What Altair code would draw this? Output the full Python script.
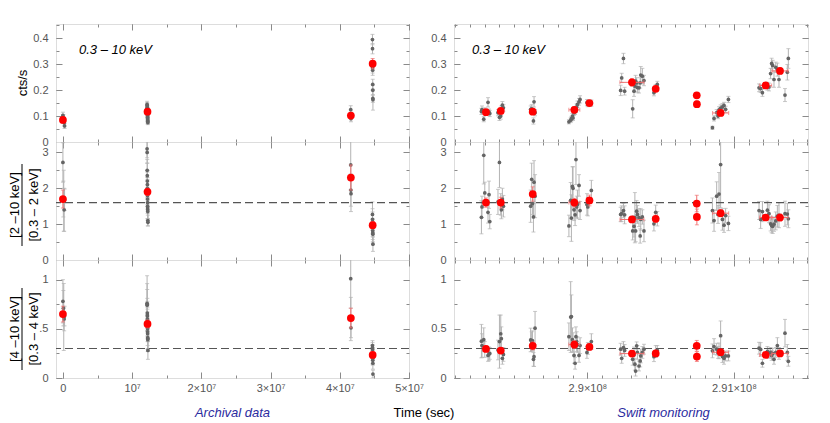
import altair as alt
import pandas as pd

# ---------------- Archival data (left column) ----------------
arch_t = [0, 60000, 120000, 180000, 240000,
          12160000, 12170000, 12180000, 12190000, 12200000, 12205000, 12210000, 12215000, 12220000,
          12225000, 12230000, 12235000, 12240000, 12250000, 12260000, 12270000, 12280000,
          41580000, 41600000, 41620000,
          44720000, 44730000, 44740000, 44750000, 44760000, 44770000, 44780000, 44790000]
arch_rate = [0.103, 0.094, 0.083, 0.074, 0.062,
             0.145, 0.140, 0.135, 0.130, 0.127, 0.122, 0.118, 0.115, 0.110, 0.105, 0.100, 0.095,
             0.090, 0.085, 0.080, 0.075, 0.120,
             0.125, 0.107, 0.090,
             0.395, 0.360, 0.286, 0.277, 0.222, 0.200, 0.168, 0.163]
arch_rate_err = [0.012, 0.012, 0.012, 0.012, 0.010,
                 0.012, 0.012, 0.012, 0.012, 0.012, 0.012, 0.012, 0.012, 0.012, 0.012, 0.012, 0.012,
                 0.012, 0.012, 0.010, 0.008, 0.012,
                 0.015, 0.013, 0.012,
                 0.020, 0.020, 0.020, 0.020, 0.020, 0.020, 0.015, 0.040]
arch_hr1 = [2.72, 1.70, 1.65, 1.40, 1.68,
            3.10, 3.00, 2.50, 2.35, 2.20, 2.10, 2.00, 1.90, 1.80, 1.70, 1.60, 1.50,
            1.45, 1.40, 1.35, 1.10, 1.05,
            2.65, 1.95, 1.85,
            1.27, 1.13, 1.04, 0.90, 0.82, 0.76, 0.72, 0.44]
arch_hr1_err = [0.55, 0.50, 0.85, 0.60, 0.30,
                0.25, 0.30, 0.30, 0.35, 0.30, 0.35, 0.30, 0.35, 0.30, 0.30, 0.30, 0.35,
                0.30, 0.30, 0.30, 0.15, 0.10,
                0.70, 0.45, 0.50,
                0.35, 0.30, 0.30, 0.25, 0.25, 0.25, 0.25, 0.20]
arch_hr2 = [0.78, 0.71, 0.62, 0.60, 0.63,
            0.76, 0.74, 0.75, 0.66, 0.63, 0.64, 0.60, 0.58, 0.55, 0.52, 0.50, 0.47,
            0.45, 0.41, 0.39, 0.40, 0.28,
            1.01, 0.60, 0.51,
            0.33, 0.31, 0.29, 0.25, 0.20, 0.18, 0.15, 0.04]
arch_hr2_err = [0.22, 0.18, 0.34, 0.12, 0.10,
                0.28, 0.22, 0.15, 0.15, 0.15, 0.12, 0.12, 0.12, 0.12, 0.10, 0.10, 0.10,
                0.12, 0.12, 0.12, 0.10, 0.09,
                0.30, 0.22, 0.10,
                0.05, 0.05, 0.05, 0.05, 0.06, 0.05, 0.06, 0.04]

arch_bin_t = [0, 12220000, 41600000, 44750000]
arch_bin_rate = [0.085, 0.117, 0.102, 0.302]
arch_bin_rate_err = [0.010, 0.008, 0.012, 0.020]
arch_bin_hr1 = [1.70, 1.90, 2.30, 0.97]
arch_bin_hr1_err = [0.25, 0.10, 0.35, 0.10]
arch_bin_hr2 = [0.65, 0.55, 0.61, 0.235]
arch_bin_hr2_err = [0.08, 0.04, 0.10, 0.03]

# ---------------- Swift monitoring (right column) ----------------
swift_t = [289277000, 289281000, 289293000, 289300000, 289322000, 289329000, 289334000,
           289390000, 289400000, 289409000, 289413000, 289420000, 289427000,
           289613000, 289620000, 289625000, 289632000, 289636000, 289643000,
           289874000, 289886000, 289891000, 289898000, 289902000, 289909000, 289916000, 289922000,
           289927000, 289932000, 289943000, 289950000,
           289997000, 290003000, 290027000,
           290227000, 290234000, 290246000, 290254000, 290309000, 290318000, 290324000, 290329000,
           290336000, 290341000, 290352000, 290360000, 290364000, 290375000, 290386000,
           290454000, 290466000, 290477000,
           290853000, 290864000, 290882000, 290891000, 290898000, 290909000, 290921000, 290932000,
           290943000, 290962000,
           291171000, 291182000, 291194000, 291228000, 291239000,
           291250000, 291257000, 291264000, 291273000, 291285000, 291296000, 291307000, 291348000,
           291364000, 291371000]
swift_rate = [0.118, 0.125, 0.088, 0.120, 0.153, 0.115, 0.110,
              0.113, 0.095, 0.100, 0.126, 0.142, 0.132,
              0.126, 0.128, 0.120, 0.081, 0.155, 0.113,
              0.078, 0.084, 0.090, 0.100, 0.093, 0.113, 0.117, 0.126, 0.135, 0.145, 0.155, 0.164,
              0.152, 0.147, 0.150,
              0.199, 0.247, 0.322, 0.196, 0.128, 0.196, 0.215, 0.235, 0.228, 0.210, 0.209, 0.228,
              0.258, 0.254, 0.237,
              0.190, 0.210, 0.222,
              0.055, 0.091, 0.113, 0.100, 0.124, 0.130, 0.135, 0.141, 0.126, 0.164,
              0.209, 0.206, 0.190, 0.215, 0.212,
              0.264, 0.303, 0.295, 0.241, 0.288, 0.279, 0.241, 0.181, 0.269, 0.322]
swift_rate_err = [0.012, 0.014, 0.010, 0.012, 0.018, 0.012, 0.012,
                  0.012, 0.012, 0.012, 0.013, 0.014, 0.013,
                  0.013, 0.016, 0.012, 0.012, 0.020, 0.012,
                  0.008, 0.009, 0.009, 0.010, 0.010, 0.011, 0.011, 0.012, 0.012, 0.013, 0.013, 0.014,
                  0.012, 0.011, 0.012,
                  0.020, 0.018, 0.020, 0.015, 0.035, 0.020, 0.020, 0.022, 0.020, 0.020, 0.020, 0.020,
                  0.033, 0.030, 0.020,
                  0.012, 0.012, 0.012,
                  0.006, 0.010, 0.012, 0.010, 0.012, 0.013, 0.013, 0.012, 0.012, 0.012,
                  0.015, 0.015, 0.014, 0.015, 0.015,
                  0.020, 0.020, 0.020, 0.030, 0.020, 0.025, 0.030, 0.025, 0.030, 0.038]
swift_hr1 = [1.19, 1.48, 2.92, 1.87, 1.33, 1.82, 1.07,
             1.62, 2.72, 1.55, 1.40, 1.70, 1.50,
             1.50, 2.25, 1.57, 1.20, 2.17, 1.78,
             0.95, 1.66, 1.17, 2.05, 2.00, 1.40, 1.26, 2.80, 1.48, 1.55, 2.08, 1.38,
             1.55, 1.48, 1.94,
             1.27, 1.29, 1.38, 1.26, 0.81, 0.94, 1.18, 0.81, 1.36, 1.27, 1.18, 0.67, 1.13, 1.20, 0.81,
             1.01, 1.33, 1.15,
             1.38, 1.10, 1.78, 1.27, 1.84, 2.66, 1.13, 0.97, 1.24, 1.02,
             1.38, 1.13, 1.35, 1.39, 1.29,
             1.01, 0.96, 0.94, 1.00, 1.09, 1.22, 1.25, 1.29, 1.28, 1.15]
swift_hr1_err = [0.46, 0.30, 0.80, 0.30, 0.30, 0.38, 0.20,
                 0.35, 0.70, 0.30, 0.25, 0.30, 0.30,
                 0.45, 0.45, 0.30, 0.42, 0.60, 0.60,
                 0.30, 0.50, 0.65, 0.55, 0.60, 0.30, 0.30, 0.70, 0.30, 0.40, 0.30, 0.25,
                 0.30, 0.25, 0.28,
                 0.20, 0.22, 0.20, 0.25, 0.25, 0.30, 0.70, 0.30, 0.30, 0.25, 0.25, 0.20, 0.30, 0.20, 0.30,
                 0.20, 0.20, 0.20,
                 0.35, 0.30, 0.40, 0.25, 0.60, 1.20, 0.30, 0.20, 0.20, 0.20,
                 0.25, 0.25, 0.28, 0.25, 0.25,
                 0.20, 0.20, 0.20, 0.20, 0.25, 0.30, 0.35, 0.35, 0.30, 0.25]
swift_hr2 = [0.375, 0.33, 0.39, 0.29, 0.23, 0.245, 0.25,
             0.285, 0.37, 0.45, 0.40, 0.20, 0.24,
             0.387, 0.37, 0.38, 0.19, 0.217, 0.507,
             0.42, 0.62, 0.625, 0.39, 0.36, 0.23, 0.15, 0.42, 0.37, 0.34, 0.23, 0.33,
             0.26, 0.30, 0.37,
             0.293, 0.20, 0.31, 0.28, 0.19, 0.235, 0.14, 0.07, 0.327, 0.26, 0.122, 0.173, 0.224,
             0.26, 0.293,
             0.217, 0.27, 0.28,
             0.276, 0.32, 0.293, 0.26, 0.276, 0.43, 0.218, 0.20, 0.224, 0.224,
             0.303, 0.29, 0.15, 0.27, 0.25,
             0.26, 0.23, 0.25, 0.19, 0.26, 0.33, 0.25, 0.456, 0.26, 0.17]
swift_hr2_err = [0.17, 0.12, 0.12, 0.08, 0.06, 0.07, 0.06,
                 0.10, 0.27, 0.19, 0.12, 0.06, 0.07,
                 0.12, 0.10, 0.10, 0.07, 0.10, 0.17,
                 0.14, 0.36, 0.22, 0.12, 0.10, 0.08, 0.06, 0.10, 0.10, 0.08, 0.07, 0.08,
                 0.06, 0.06, 0.08,
                 0.06, 0.05, 0.06, 0.06, 0.06, 0.08, 0.06, 0.05, 0.04, 0.07, 0.05, 0.06, 0.07,
                 0.06, 0.05,
                 0.05, 0.06, 0.05,
                 0.07, 0.08, 0.06, 0.06, 0.08, 0.15, 0.06, 0.06, 0.05, 0.05,
                 0.06, 0.07, 0.04, 0.05, 0.05,
                 0.05, 0.05, 0.05, 0.05, 0.05, 0.08, 0.06, 0.14, 0.08, 0.05]

swift_bin_t = [289308000, 289409000, 289627000, 289911000, 290014000, 290304000,
               290466000, 290746000, 290747000, 290909000, 291216000, 291314000]
swift_bin_t_err = [5000, 5000, 5000, 37500, 5000, 82000, 5000, 3000, 3000, 55000, 41000, 55000]
swift_bin_rate = [0.115, 0.120, 0.117, 0.124, 0.150, 0.230, 0.205, 0.180, 0.146, 0.112, 0.218, 0.274]
swift_bin_rate_err = [0.008, 0.008, 0.009, 0.012, 0.008, 0.015, 0.010, 0.010, 0.012, 0.012, 0.010, 0.012]
swift_bin_hr1 = [1.60, 1.60, 1.84, 1.60, 1.66, 1.13, 1.15, 1.575, 1.20, 1.305, 1.185, 1.185]
swift_bin_hr1_err = [0.13, 0.15, 0.20, 0.12, 0.15, 0.07, 0.10, 0.23, 0.22, 0.10, 0.08, 0.10]
swift_bin_hr2 = [0.296, 0.279, 0.327, 0.340, 0.316, 0.248, 0.250, 0.327, 0.218, 0.262, 0.235, 0.250]
swift_bin_hr2_err = [0.03, 0.03, 0.04, 0.04, 0.03, 0.02, 0.025, 0.055, 0.05, 0.025, 0.02, 0.025]

# reference levels (dashed lines)
hr1_ref = [1.6]
hr2_ref = [0.3]

# axis ticks / labels
left_x_major = [0, 10000000, 20000000, 30000000, 40000000, 50000000]
left_x_minor = [0, 5000000, 10000000, 15000000, 20000000, 25000000, 30000000, 35000000,
                40000000, 45000000, 50000000]
right_x_major = [290000000, 291000000]
right_x_minor = [289100000 + 100000 * i for i in range(25)]
rate_major = [0, 0.1, 0.2, 0.3, 0.4]
rate_minor = [0, 0.05, 0.1, 0.15, 0.2, 0.25, 0.3, 0.35, 0.4, 0.45]
hr1_major = [0, 1, 2, 3]
hr1_minor = [0, 0.5, 1, 1.5, 2, 2.5, 3]
hr2_major = [0, 0.5, 1]
hr2_minor = [0, 0.25, 0.5, 0.75, 1]

FONT = "Liberation Sans"
GREY_PT = "#646464"
GREY_ERR = "#b3b3b3"
RED = "#ff0000"
RED_ERR = "#f07070"
TICK_COL = "#8a8a8a"
LABEL_COL = "#555555"
BLUE = "#2b2ba0"

W_L, W_R, H = 353, 354, 118
X_L = [-1000000, 50000000]
X_R = [289090000, 291505000]
Y_DOM = {"rate": [0, 0.455], "hr1": [0, 3.29], "hr2": [0, 1.2]}


def bounds(df, cols):
    for c in cols:
        df[c + "_lo"] = df[c] - df[c + "_err"]
        df[c + "_hi"] = df[c] + df[c + "_err"]
    return df


arch = bounds(pd.DataFrame({"t": arch_t, "rate": arch_rate, "rate_err": arch_rate_err,
                            "hr1": arch_hr1, "hr1_err": arch_hr1_err,
                            "hr2": arch_hr2, "hr2_err": arch_hr2_err}), ["rate", "hr1", "hr2"])
arch_bin = bounds(pd.DataFrame({"t": arch_bin_t, "rate": arch_bin_rate, "rate_err": arch_bin_rate_err,
                                "hr1": arch_bin_hr1, "hr1_err": arch_bin_hr1_err,
                                "hr2": arch_bin_hr2, "hr2_err": arch_bin_hr2_err}), ["rate", "hr1", "hr2"])
swift = bounds(pd.DataFrame({"t": swift_t, "rate": swift_rate, "rate_err": swift_rate_err,
                             "hr1": swift_hr1, "hr1_err": swift_hr1_err,
                             "hr2": swift_hr2, "hr2_err": swift_hr2_err}), ["rate", "hr1", "hr2"])
swift_bin = bounds(pd.DataFrame({"t": swift_bin_t, "t_err": swift_bin_t_err,
                                 "rate": swift_bin_rate, "rate_err": swift_bin_rate_err,
                                 "hr1": swift_bin_hr1, "hr1_err": swift_bin_hr1_err,
                                 "hr2": swift_bin_hr2, "hr2_err": swift_bin_hr2_err}),
                   ["t", "rate", "hr1", "hr2"])


def ax(orient, values, size, labels=False, expr=None):
    kw = dict(orient=orient, values=values, tickSize=size, offset=-size, domain=False,
              grid=False, ticks=True, tickColor=TICK_COL, tickWidth=1, labels=labels, title=None)
    if labels:
        kw.update(labelFont=FONT, labelFontSize=11, labelColor=LABEL_COL,
                  labelPadding=8 if orient in ("left", "right") else 4,
                  labelFlush=False, labelOverlap=False)
        if expr:
            kw["labelExpr"] = expr
    return alt.Axis(**kw)


def text_layer(label, x, y, size=13, style="normal", color="black", angle=0, align="center",
               baseline="middle"):
    return alt.Chart(pd.DataFrame({"label": [label]})).mark_text(
        font=FONT, fontSize=size, fontStyle=style, color=color, angle=angle, align=align,
        baseline=baseline).encode(x=alt.value(x), y=alt.value(y), text="label:N")


def panel(grey, red, field, side, xlab, ylab_expr, dash=None, extras=(), red_xerr=False):
    if side == "L":
        xdom, xmaj, xmin, w = X_L, left_x_major, left_x_minor, W_L
        xexpr = ("datum.value == 0 ? '0' : datum.value == 10000000 ? '10⁷' : "
                 "format(datum.value / 10000000, 'd') + '×10⁷'")
    else:
        xdom, xmaj, xmin, w = X_R, right_x_major, right_x_minor, W_R
        xexpr = "format(datum.value / 100000000, '.3~f') + '×10⁸'"
    ymaj, ymin = {"rate": (rate_major, rate_minor), "hr1": (hr1_major, hr1_minor),
                  "hr2": (hr2_major, hr2_minor)}[field]
    xs = alt.Scale(domain=xdom, nice=False, zero=False)
    ys = alt.Scale(domain=Y_DOM[field], nice=False, zero=False)

    layers = []
    layers.append(alt.Chart(grey).mark_errorbar(
        orient="vertical", color=GREY_ERR, thickness=1, ticks={"size": 4}, clip=True).encode(
        x=alt.X("t:Q", scale=xs, axis=ax("bottom", xmaj, 6, xlab, xexpr)),
        y=alt.Y(f"{field}_lo:Q", scale=ys, axis=ax("left", ymaj, 6, True, ylab_expr)),
        y2=f"{field}_hi:Q"))
    if dash is not None:
        layers.append(alt.Chart(pd.DataFrame({"v": dash})).mark_rule(
            color="#555555", strokeDash=[8, 4], strokeWidth=1.2).encode(
            y=alt.Y("v:Q", scale=ys, axis=None)))
    layers.append(alt.Chart(grey).mark_circle(size=14, color=GREY_PT, opacity=1, clip=True).encode(
        x=alt.X("t:Q", scale=xs, axis=ax("top", xmaj, 6)),
        y=alt.Y(f"{field}:Q", scale=ys, axis=ax("right", ymaj, 6))))
    if red_xerr:
        layers.append(alt.Chart(red).mark_errorbar(
            orient="horizontal", color=RED_ERR, thickness=1, ticks={"size": 4}).encode(
            x=alt.X("t_lo:Q", scale=xs, axis=None),
            x2="t_hi:Q",
            y=alt.Y(f"{field}:Q", scale=ys, axis=None)))
    layers.append(alt.Chart(red).mark_errorbar(
        orient="vertical", color=RED_ERR, thickness=1, ticks={"size": 4}).encode(
        x=alt.X("t:Q", scale=xs, axis=ax("bottom", xmin, 3)),
        y=alt.Y(f"{field}_lo:Q", scale=ys, axis=ax("left", ymin, 3)),
        y2=f"{field}_hi:Q"))
    layers.append(alt.Chart(red).mark_circle(size=60, color=RED, opacity=1).encode(
        x=alt.X("t:Q", scale=xs, axis=ax("top", xmin, 3)),
        y=alt.Y(f"{field}:Q", scale=ys, axis=ax("right", ymin, 3))))
    layers.extend(extras)
    return alt.layer(*layers).resolve_scale(x="independent", y="independent").resolve_axis(
        x="independent", y="independent").properties(width=w, height=H)


def frac(top, bottom, cy):
    bar = alt.Chart(pd.DataFrame({"a": [0]})).mark_rule(color="black", strokeWidth=1).encode(
        x=alt.value(-34), y=alt.value(cy - 41), y2=alt.value(cy + 41))
    return [text_layer(top, -41, cy, angle=270), bar, text_layer(bottom, -22.5, cy, angle=270)]


note = "0.3 – 10 keV"
rate_expr = "datum.value == 0 ? '0' : format(datum.value, '.1f')"
hr1_expr = "format(datum.value, 'd')"
hr2_left_expr = "datum.value == 0 ? '0' : datum.value == 1 ? '1' : '.5'"
hr2_right_expr = "format(datum.value, '~g')"

p11 = panel(arch, arch_bin, "rate", "L", False, rate_expr,
            extras=[text_layer(note, 23, 30, style="italic", align="left", baseline="alphabetic"),
                    text_layer("cts/s", -33.5, 59, size=13, angle=270)])
p12 = panel(swift, swift_bin, "rate", "R", False, rate_expr, red_xerr=True,
            extras=[text_layer(note, 18, 30, style="italic", align="left", baseline="alphabetic")])
p21 = panel(arch, arch_bin, "hr1", "L", False, hr1_expr, dash=hr1_ref,
            extras=frac("[2 –10 keV]", "[0.3 – 2 keV]", 63))
p22 = panel(swift, swift_bin, "hr1", "R", False, hr1_expr, dash=hr1_ref, red_xerr=True)
p31 = panel(arch, arch_bin, "hr2", "L", True, hr2_left_expr, dash=hr2_ref,
            extras=frac("[4 –10 keV]", "[0.3 – 4 keV]", 69) + [
                text_layer("Archival data", 176.5, 152.7, style="italic", color=BLUE),
                text_layer("Time (sec)", 368, 152.7)])
p32 = panel(swift, swift_bin, "hr2", "R", True, hr2_right_expr, dash=hr2_ref, red_xerr=True,
            extras=[text_layer("Swift monitoring", 209.6, 152.7, style="italic", color=BLUE)])

chart = alt.concat(p11, p12, p21, p22, p31, p32, columns=2,
                   spacing={"row": 0, "column": 45}, bounds="flush").properties(
    padding={"left": 0, "top": 15, "right": 5, "bottom": 0},
    background="white").configure_view(stroke="#666666", strokeWidth=1).configure(font=FONT)

chart.save("out.html", embed_options={"renderer": "svg", "actions": False})
